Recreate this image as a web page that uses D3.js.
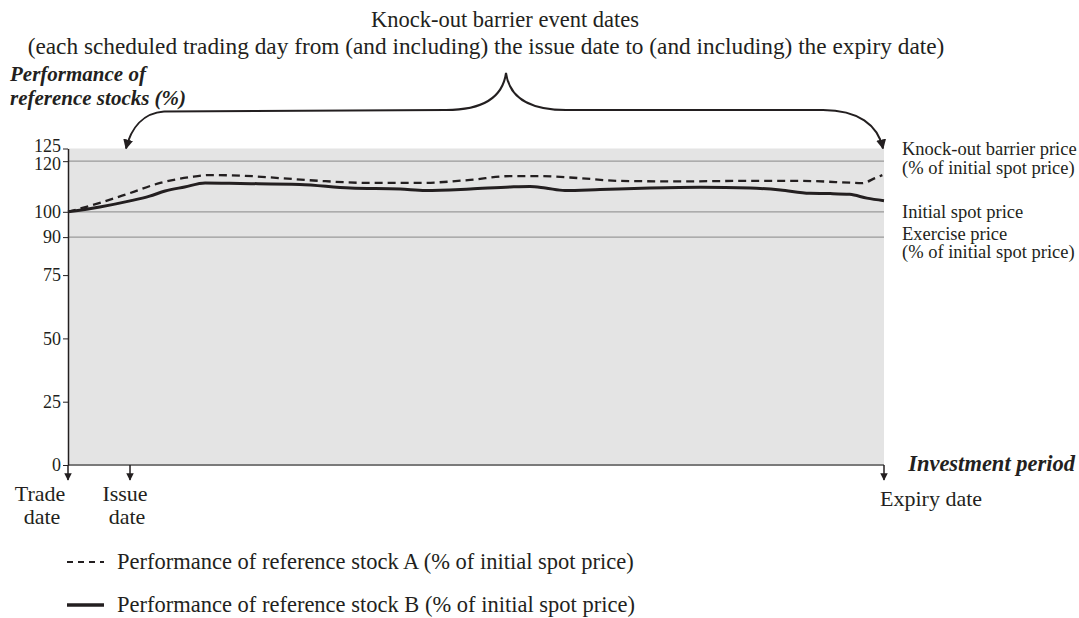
<!DOCTYPE html>
<html><head><meta charset="utf-8">
<script src="https://cdn.jsdelivr.net/npm/d3@7"></script>
<style>
body{margin:0;background:#fff;}
text{font-family:"Liberation Serif","Times New Roman",serif;fill:#231f20;}
</style></head>
<body><svg id="c" width="1079" height="618"></svg>
<script>
// Data (x: % of investment period, trade date = 0, expiry = 100)
const yTicks = [0, 25, 50, 75, 90, 100, 120, 125];
const gridValues = [120, 100, 90];
const stockA = [[0,100],[3.9,103.5],[7.6,107.4],[11.3,111.4],[15.0,113.7],[17.4,114.5],[21.1,114.3],[26.0,113.3],[30.9,112.2],[37.0,111.4],[43.1,111.4],[49.3,112.6],[54.2,114.1],[57.8,114.1],[62.7,113.3],[67.6,112.2],[75.0,112.0],[82.4,112.2],[89.7,112.2],[95.8,111.5],[97.3,111.3],[98.9,113.3],[99.8,114.5]];
const stockB = [[0,100],[3.9,101.9],[7.6,104.3],[10.0,106.2],[11.9,108.2],[14.3,109.8],[16.8,111.4],[21.1,111.2],[28.4,110.8],[34.6,109.4],[40.7,109.0],[43.8,108.4],[49.3,109.0],[54.2,109.8],[56.6,110.0],[58.5,109.4],[60.9,108.4],[65.2,108.8],[71.3,109.4],[77.5,109.7],[83.6,109.4],[87.3,108.6],[90.9,107.3],[93.4,107.2],[95.8,106.9],[97.9,105.4],[100,104.4]];
const dateMarks = [{x:0,lines:["Trade","date"]},{x:7.6,lines:["Issue","date"]},{x:100,lines:["Expiry date"]}];
const rightLabels = [{lines:["Knock-out barrier price","(% of initial spot price)"]},{lines:["Initial spot price"]},{lines:["Exercise price","(% of initial spot price)"]}];
const legendItems = [{name:"Performance of reference stock A (% of initial spot price)",dash:"6,5",w:2},{name:"Performance of reference stock B (% of initial spot price)",dash:null,w:3.5}];

const svg = d3.select("#c");
const L = 68, R = 884, T = 148.5, B = 465;
const x = d3.scaleLinear().domain([0,100]).range([L,R]);
const y = d3.scaleLinear().domain([0,125]).range([B,T]);

const defs = svg.append("defs");
defs.append("marker").attr("id","ah").attr("viewBox","0 0 10 10").attr("refX",9).attr("refY",5)
  .attr("markerWidth",5).attr("markerHeight",5).attr("orient","auto-start-reverse")
  .append("path").attr("d","M0,0 L10,5 L0,10 z").attr("fill","#231f20");

// background
svg.append("rect").attr("x",L).attr("y",T).attr("width",R-L).attr("height",B-T).attr("fill","#e4e4e4");
// grid
svg.selectAll(".grid").data(gridValues).enter().append("line")
  .attr("x1",L).attr("x2",R).attr("y1",d=>y(d)).attr("y2",d=>y(d))
  .attr("stroke","#9a9a9a").attr("stroke-width",1.3);
svg.append("line").attr("x1",L).attr("x2",R).attr("y1",y(0)).attr("y2",y(0)).attr("stroke","#7a7a7a").attr("stroke-width",2);

// y axis
const ya = svg.append("g").attr("transform",`translate(${L},0)`)
  .call(d3.axisLeft(y).tickValues(yTicks).tickSize(5).tickSizeOuter(0).tickPadding(2));
ya.select(".domain").attr("stroke","#231f20").attr("stroke-width",1.5);
ya.selectAll(".tick line").attr("stroke","#231f20");
ya.selectAll(".tick text").attr("font-size",18).attr("font-family","Liberation Serif").attr("fill","#231f20");
ya.selectAll(".tick").filter(d=>d===125).select("text").attr("dy","0.15em");
ya.selectAll(".tick").filter(d=>d===120).select("text").attr("dy","0.45em");

// date arrows
dateMarks.forEach(d=>{
  svg.append("line").attr("x1",x(d.x)).attr("x2",x(d.x)).attr("y1",B).attr("y2",B+15)
    .attr("stroke","#231f20").attr("stroke-width",1.5).attr("marker-end","url(#ah)");
});
const fsD = 22;
svg.append("text").attr("x",40).attr("y",501).attr("text-anchor","middle").attr("font-size",fsD).text(dateMarks[0].lines[0]);
svg.append("text").attr("x",42).attr("y",524).attr("text-anchor","middle").attr("font-size",fsD).text(dateMarks[0].lines[1]);
svg.append("text").attr("x",x(dateMarks[1].x)-5).attr("y",501).attr("text-anchor","middle").attr("font-size",fsD).text(dateMarks[1].lines[0]);
svg.append("text").attr("x",x(dateMarks[1].x)-3).attr("y",524).attr("text-anchor","middle").attr("font-size",fsD).text(dateMarks[1].lines[1]);
svg.append("text").attr("x",x(dateMarks[2].x)-4).attr("y",506).attr("font-size",fsD).text(dateMarks[2].lines[0]);

// lines
const line = d3.line().x(d=>x(d[0])).y(d=>y(d[1])).curve(d3.curveMonotoneX);
svg.append("path").datum(stockA).attr("d",line).attr("fill","none").attr("stroke","#231f20").attr("stroke-width",2.3).attr("stroke-dasharray","8,5");
svg.append("path").datum(stockB).attr("d",line).attr("fill","none").attr("stroke","#231f20").attr("stroke-width",3);

// right labels
const rl = svg.append("g").attr("font-size",18.5);
rl.append("text").attr("x",902).attr("y",155).text(rightLabels[0].lines[0]);
rl.append("text").attr("x",902).attr("y",174).text(rightLabels[0].lines[1]);
rl.append("text").attr("x",902).attr("y",218).text(rightLabels[1].lines[0]);
rl.append("text").attr("x",902).attr("y",240).text(rightLabels[2].lines[0]);
rl.append("text").attr("x",902).attr("y",258).text(rightLabels[2].lines[1]);

// axis titles
svg.append("text").attr("x",10).attr("y",81).attr("font-size",21).attr("font-weight","bold").attr("font-style","italic").text("Performance of");
svg.append("text").attr("x",10).attr("y",105).attr("font-size",21).attr("font-weight","bold").attr("font-style","italic").text("reference stocks (%)");
svg.append("text").attr("x",1075).attr("y",471).attr("text-anchor","end").attr("font-size",22.5).attr("font-weight","bold").attr("font-style","italic").text("Investment period");

// top title
svg.append("text").attr("x",505).attr("y",27).attr("text-anchor","middle").attr("font-size",22.5).text("Knock-out barrier event dates");
svg.append("text").attr("x",486).attr("y",54).attr("text-anchor","middle").attr("font-size",23.3).text("(each scheduled trading day from (and including) the issue date to (and including) the expiry date)");

// brace
const bx1 = x(dateMarks[1].x)-2, bx2 = x(100)-1, peak = 506, hy = 110;
svg.append("path").attr("d",`M${bx1+36},${hy+1.5} L${peak-60},${hy} C${peak-20},${hy} ${peak-3},${hy-15} ${peak},${hy-37} C${peak+3},${hy-15} ${peak+20},${hy} ${peak+60},${hy} L${bx2-60},${hy} C${bx2-25},${hy} ${bx2-5},${hy+15} ${bx2},${T}`)
  .attr("fill","none").attr("stroke","#231f20").attr("stroke-width",2).attr("marker-end","url(#ah)");
svg.append("path").attr("d",`M${bx1+36},${hy+1.5} C${bx1+15},${hy+3} ${bx1+3},${hy+18} ${bx1-2},${T}`)
  .attr("fill","none").attr("stroke","#231f20").attr("stroke-width",2).attr("marker-end","url(#ah)");

// legend
const lg = svg.append("g");
legendItems.forEach((d,i)=>{
  const ly = 562 + i*43;
  lg.append("line").attr("x1",67).attr("x2",104).attr("y1",ly).attr("y2",ly).attr("stroke","#231f20")
    .attr("stroke-width",d.w).attr("stroke-dasharray",d.dash);
  lg.append("text").attr("x",117).attr("y",ly+7).attr("font-size",22.5).text(d.name);
});
</script></body></html>
